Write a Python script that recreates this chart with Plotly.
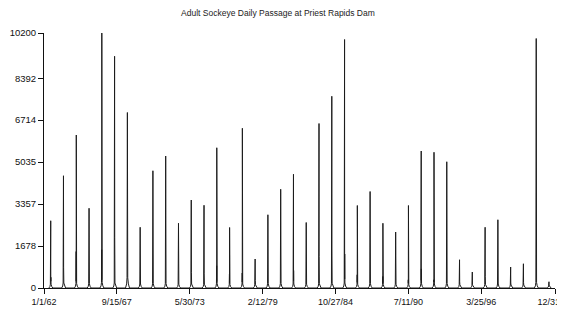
import plotly.graph_objects as go
import datetime as dt

title = "Adult Sockeye Daily Passage at Priest Rapids Dam"

years = list(range(1962, 2002))
# peak daily passage per run year
peak_vals = [2690, 4490, 6120, 3190, 10200, 9270, 7020, 2430, 4690, 5280,
             2590, 3520, 3310, 5610, 2420, 6390, 1160, 2930, 3950, 4550,
             2620, 6580, 7670, 9940, 3300, 3860, 2590, 2240, 3300, 5480,
             5430, 5050, 1130, 640, 2430, 2730, 840, 970, 9980, 250]
# secondary spike height in each run
second_vals = [860, 1660, 1460, 1800, 1530, 4050, 4190, 2200, 3820, 4960,
               2200, 1260, 1130, 890, 560, 600, 600, 2460, 2790, 1400,
               2320, 2520, 3120, 2720, 530, 3120, 460, 1490, 330, 1530,
               330, 4520, 500, 300, 900, 1620, 400, 450, 6120, 150]
# low shoulder at the base of each run
foot_vals = [150, 200, 180, 170, 220, 200, 410, 160, 170, 180,
             150, 160, 150, 170, 140, 160, 130, 170, 180, 160,
             150, 170, 190, 200, 150, 170, 140, 150, 130, 170,
             160, 180, 130, 110, 140, 160, 120, 120, 220, 90]

tick_dates = ["1962-01-01", "1967-09-15", "1973-05-30", "1979-02-12",
              "1984-10-27", "1990-07-11", "1996-03-25", "2001-12-31"]
tick_text = ["1/1/62", "9/15/67", "5/30/73", "2/12/79",
             "10/27/84", "7/11/90", "3/25/96", "12/31/01"]
y_ticks = [0, 1678.5, 3357, 5035.5, 6714, 8392.5, 10200]
y_text = ["0", "1678", "3357", "5035", "6714", "8392", "10200"]

# build the daily-passage trace from the per-year readings
xs, ys = [], []
for yr, pk, sc, ft in zip(years, peak_vals, second_vals, foot_vals):
    pts = [
        (dt.date(yr, 5, 20), 0),
        (dt.date(yr, 6, 20), ft * 0.4),
        (dt.date(yr, 7, 2), ft),
        (dt.date(yr, 7, 8), sc),
        (dt.date(yr, 7, 9), ft * 1.5),
        (dt.date(yr, 7, 12), pk),
        (dt.date(yr, 7, 14), ft * 1.8),
        (dt.date(yr, 7, 16), sc * 0.5),
        (dt.date(yr, 7, 22), ft),
        (dt.date(yr, 8, 10), ft * 0.4),
        (dt.date(yr, 9, 10), 0),
    ]
    for d, v in pts:
        xs.append(d)
        ys.append(v)

fig = go.Figure()
fig.add_trace(go.Scatter(x=xs, y=ys, mode="lines",
                         line=dict(color="#1c1c1c", width=1),
                         hoverinfo="skip", showlegend=False))

# page body has an 8px default margin, so the figure is sized to compensate
W, H = 557, 300
fig.update_layout(
    width=W, height=H,
    margin=dict(l=36, r=10, t=25, b=20),
    paper_bgcolor="white", plot_bgcolor="white",
    font=dict(family="Liberation Sans, Arial, sans-serif", color="#111", size=9),
    title=dict(text=title, x=255 / W, xanchor="center", xref="paper",
               y=1 - 5 / H, yanchor="middle", yref="container",
               font=dict(size=8.5, color="#222")),
)
fig.update_xaxes(
    type="date", range=["1962-01-01", "2001-12-31"],
    tickmode="array", tickvals=tick_dates, ticktext=tick_text,
    showgrid=False, zeroline=False, showline=True, linecolor="#111", linewidth=1,
    ticks="outside", ticklen=5, tickcolor="#111", tickwidth=1,
    tickfont=dict(size=9), automargin=False, ticklabeloverflow="allow",
)
fig.update_yaxes(
    range=[0, 10200], tickmode="array", tickvals=y_ticks, ticktext=y_text,
    showgrid=False, zeroline=False, showline=True, linecolor="#111", linewidth=1,
    ticks="outside", ticklen=5, tickcolor="#111", tickwidth=1,
    tickfont=dict(size=9.5), automargin=False, ticklabeloverflow="allow",
)

fig.write_html("out.html")
